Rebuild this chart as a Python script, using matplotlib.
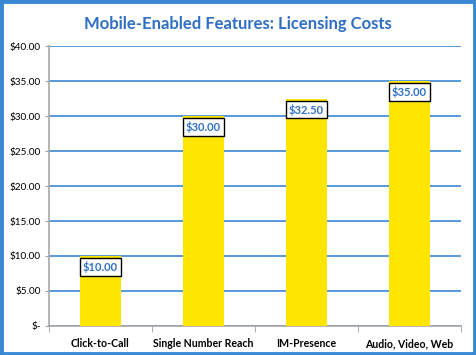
import matplotlib
matplotlib.use("Agg")
import matplotlib.pyplot as plt
from matplotlib.patches import Rectangle
from matplotlib.ticker import FuncFormatter, MultipleLocator

categories = ["Click-to-Call", "Single Number Reach", "IM-Presence", "Audio, Video, Web"]
costs = [10.00, 30.00, 32.50, 35.00]

BLUE = "#2f6fc4"
GRID = "#4a90d8"
YELLOW = "#ffe500"

plt.rcParams["font.family"] = ["Lato", "DejaVu Sans"]

fig = plt.figure(figsize=(4.76, 3.55), dpi=100)
fig.patch.set_facecolor("white")
fig.patches.append(Rectangle((0.003, 0.004), 0.994, 0.992, transform=fig.transFigure,
                             fill=False, edgecolor="#3a88d4", linewidth=3.5))

ax = fig.add_axes([0.1029, 0.0817, 0.8656, 0.7887])
x = list(range(len(categories)))
ax.bar(x, costs, width=0.4, color=YELLOW, zorder=3)
ax.set_xlim(-0.5, len(categories) - 0.5)
ax.set_ylim(0, 40)
ax.yaxis.set_major_locator(MultipleLocator(5))
ax.yaxis.set_major_formatter(FuncFormatter(lambda v, p: "$-" if v == 0 else "${:.2f}".format(v)))
ax.grid(axis="y", color=GRID, linewidth=1.3, zorder=0)
ax.set_xticks(x)
ax.set_xticklabels(categories, fontweight="bold", fontsize=7.6)
ax.set_xticks([i - 0.5 for i in range(len(categories) + 1)], minor=True)
ax.tick_params(axis="x", which="major", length=0, pad=9)
ax.tick_params(axis="x", which="minor", length=4, color="#a0a0a0")
ax.tick_params(axis="y", length=3, color="#a0a0a0", labelsize=7.2, pad=3)
for s in ["top", "right"]:
    ax.spines[s].set_visible(False)
for s in ["left", "bottom"]:
    ax.spines[s].set_color("#a8a8a8")
    ax.spines[s].set_linewidth(1.2)

for xi, v in zip(x, costs):
    ax.annotate("${:.2f}".format(v), xy=(xi, v), xytext=(0, -8), textcoords="offset points",
                ha="center", va="center", fontsize=8, fontweight="bold", color=BLUE, zorder=5,
                bbox=dict(boxstyle="square,pad=0.25", facecolor="white", edgecolor="black", linewidth=1))

fig.text(0.5, 0.932, "Mobile-Enabled Features: Licensing Costs", ha="center", va="center",
         fontsize=12, fontweight="bold", color=BLUE)

fig.savefig("out.png", dpi=100)
